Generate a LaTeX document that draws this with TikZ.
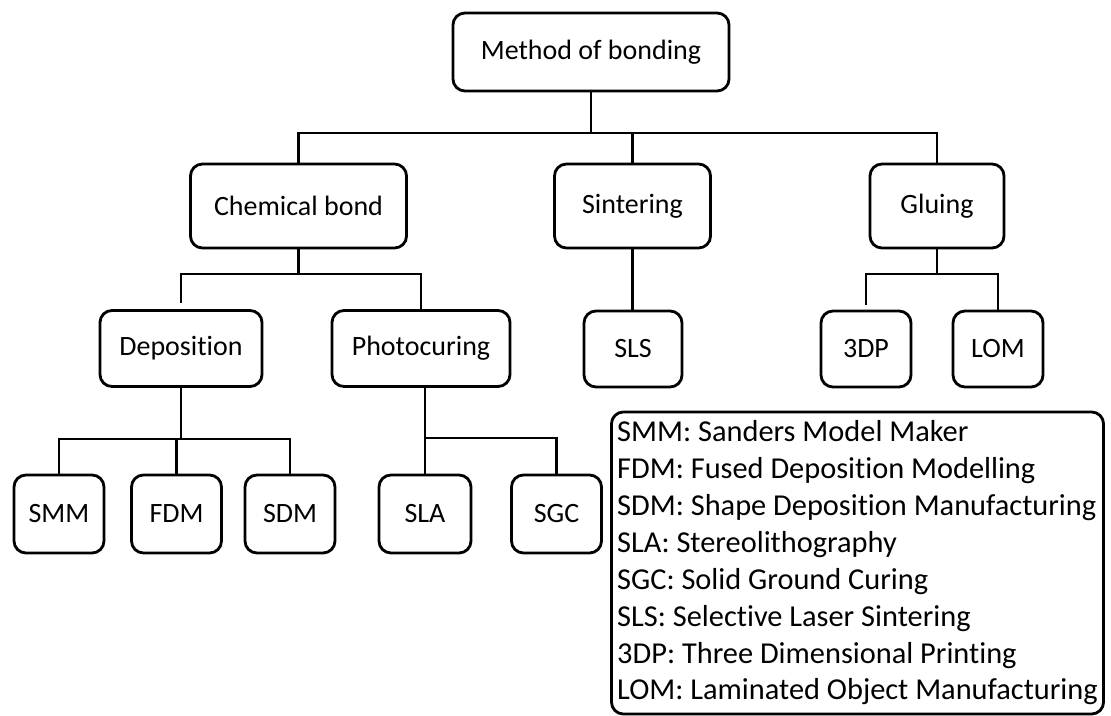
\documentclass[tikz,border=0pt]{standalone}
\usepackage{fontspec}
\setmainfont[Ligatures={NoCommon,NoRequired,NoContextual}]{Carlito}
\usepackage{tikz}

\begin{document}
\begin{tikzpicture}[x=0.025cm,y=-0.025cm,line width=2pt,
  box/.style={draw,rounded corners=0.3cm,align=center,inner sep=0pt,font=\fontsize{19.9}{24}\selectfont},
  leaf/.style={box,minimum width=2.25cm,minimum height=1.95cm},
  key/.style={draw,rounded corners=0.3cm,align=left,inner sep=0pt,font=\fontsize{21.6}{26.2}\selectfont}]
\useasboundingbox (0,0) rectangle (1111,716);
\node[box,minimum width=6.9cm,minimum height=1.95cm] (mob) at (591,52) {Method of bonding};
\node[box,minimum width=5.4cm,minimum height=2.1cm] (chem) at (298.5,206) {Chemical bond};
\node[box,minimum width=3.9cm,minimum height=2.1cm] (sint) at (632.5,206) {Sintering};
\node[box,minimum width=3.35cm,minimum height=2.1cm] (glu) at (937,206) {Gluing};
\node[box,minimum width=4.05cm,minimum height=1.9cm] (dep) at (181,348.5) {Deposition};
\node[box,minimum width=4.45cm,minimum height=1.9cm] (photo) at (421,348.5) {Photocuring};
\node[box,minimum width=2.45cm,minimum height=1.9cm] (sls) at (633,349) {SLS};
\node[box,minimum width=2.25cm,minimum height=1.9cm] (tdp) at (866,349) {3DP};
\node[box,minimum width=2.25cm,minimum height=1.9cm] (lom) at (998,349) {LOM};
\node[leaf] (smm) at (59,514) {SMM};
\node[leaf] (fdm) at (176.5,514) {FDM};
\node[leaf] (sdm) at (290,514) {SDM};
\node[leaf,minimum width=2.3cm] (sla) at (425,514) {SLA};
\node[leaf] (sgc) at (556.5,514) {SGC};
\node[key,minimum width=12.3cm,minimum height=7.55cm] (legend) at (857.5,563)
  {SMM: Sanders Model Maker\\
   FDM: Fused Deposition Modelling\\
   SDM: Shape Deposition Manufacturing\\
   SLA: Stereolithography\\
   SGC: Solid Ground Curing\\
   SLS: Selective Laser Sintering\\
   3DP: Three Dimensional Printing\\
   LOM: Laminated Object Manufacturing};
\coordinate (topbar) at (0,133);
\coordinate (chembar) at (0,274);
\coordinate (glubar) at (0,274);
\coordinate (depbar) at (0,439);
\coordinate (photobar) at (0,438);
\draw (mob.south) -- (mob.south |- topbar);
\draw (chem.north) |- (glu.north |- topbar) -- (glu.north);
\draw (sint.north) -- (sint.north |- topbar);
\draw (chem.south) -- (chem.south |- chembar);
\draw ([yshift=0.15cm]dep.north) |- (photo.north |- chembar) -- (photo.north);
\draw (dep.south) -- (dep.south |- depbar);
\draw (smm.north) |- (sdm.north |- depbar) -- (sdm.north);
\draw (fdm.north) -- (fdm.north |- depbar);
\draw (sla.north |- photo.south) -- (sla.north);
\draw (sla.north |- photobar) -| (sgc.north);
\draw (sint.south) -- (sint.south |- sls.north);
\draw (glu.south) -- (glu.south |- glubar);
\draw ([yshift=0.125cm]tdp.north) |- (lom.north |- glubar) -- (lom.north);
\end{tikzpicture}
\end{document}
